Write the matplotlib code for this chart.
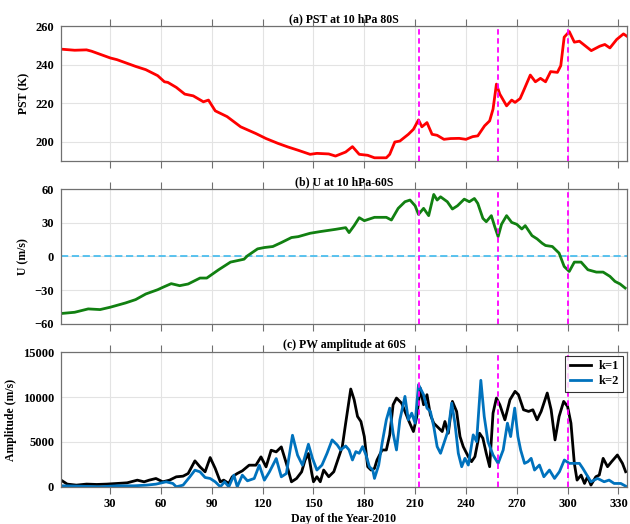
import numpy as np
import matplotlib
matplotlib.use('Agg')
import matplotlib.pyplot as plt

plt.rcParams['font.family'] = ['Liberation Serif', 'DejaVu Serif']
plt.rcParams['font.weight'] = 'bold'

# (a) polar stratospheric temperature, 10 hPa 80S
pst_day = [2, 9, 16, 19, 30, 34, 45, 51, 58, 62, 64, 69, 74, 79, 85, 88, 92, 99, 107,
           116, 122, 129, 135, 141, 148, 152, 159, 163, 169, 173, 177, 182, 186, 193,
           195, 198, 201, 206, 209, 212, 214, 217, 220, 223, 227, 231, 236, 240, 244,
           247, 251, 254, 256, 258, 260, 264, 267, 269, 272, 274, 278, 281, 284, 287,
           290, 294, 296, 298, 301, 304, 307, 314, 319, 322, 325, 329, 333, 335]
pst_val = [248.0, 247.5, 247.7, 247.0, 243.5, 242.6, 239.1, 237.4, 234.3, 231.1, 230.8,
           228.2, 224.7, 223.8, 220.7, 221.6, 216.0, 213.0, 207.7, 204.2, 201.6, 199.1,
           197.2, 195.5, 193.4, 193.9, 193.6, 192.5, 194.6, 197.4, 193.4, 192.9, 191.6,
           191.6, 193.4, 199.8, 200.3, 203.8, 206.4, 211.3, 207.7, 209.9, 203.8, 203.3,
           201.2, 201.6, 201.7, 201.2, 202.6, 203.0, 208.2, 210.8, 216.9, 229.9, 224.7,
           218.6, 221.6, 220.4, 222.4, 226.4, 234.6, 231.1, 232.9, 231.1, 236.4, 236.0,
           239.5, 254.3, 257.2, 251.7, 252.2, 247.3, 249.6, 250.5, 248.7, 253.1, 256.0,
           254.8]

# (b) zonal wind, 10 hPa 60S
u_day = [1, 9, 17, 24, 30, 39, 45, 51, 58, 61, 66, 71, 76, 83, 87, 94, 101, 109, 111,
         117, 121, 126, 131, 137, 141, 148, 154, 163, 169, 171, 174, 177, 180, 186, 193,
         196, 200, 204, 207, 210, 212, 215, 218, 221, 223, 225, 229, 232, 235, 239, 242,
         245, 247, 250, 252, 255, 257, 259, 261, 264, 267, 270, 273, 275, 279, 282, 285,
         287, 291, 295, 298, 301, 304, 308, 312, 317, 321, 325, 328, 331, 334]
u_val = [-50.8, -49.7, -46.7, -47.3, -45.2, -41.4, -38.4, -33.4, -29.6, -27.5, -24.2,
         -26.0, -24.5, -19.2, -19.2, -11.8, -5.0, -2.4, 0.6, 6.8, 8.0, 8.9, 12.4, 16.9,
         17.7, 20.7, 22.2, 24.2, 25.7, 21.3, 27.5, 34.6, 31.9, 34.9, 34.9, 32.5, 42.9,
         48.8, 50.3, 45.2, 37.5, 42.9, 36.4, 55.3, 50.3, 53.2, 48.8, 42.3, 45.2, 51.1,
         48.8, 51.7, 47.3, 34.0, 31.0, 36.4, 26.6, 17.7, 28.7, 36.4, 30.4, 28.7, 24.5,
         27.5, 18.6, 15.7, 11.8, 9.8, 8.9, 3.0, -8.9, -13.3, -5.0, -5.0, -11.8, -13.9,
         -13.9, -17.7, -22.2, -24.5, -28.1]

# (c) planetary wave amplitude at 60S
k1_day = [1.6, 4.6, 10, 16, 22, 28, 34, 40, 46, 50, 53, 57, 61, 65, 69, 73, 76, 80, 83,
          86, 89, 92, 95, 97, 100, 102, 105, 108, 112, 116, 119, 122, 125, 128, 131,
          134, 137, 140, 143, 145, 147, 149, 150, 152, 154, 156, 159, 162, 165, 167,
          169, 172, 174, 176, 178, 180, 182, 184, 186, 187.5, 190.5, 193, 195, 197, 199,
          202, 204, 206, 209, 211, 213, 215, 217, 219, 221, 224, 226, 227.6, 229.6, 232,
          234.5, 236.5, 238.4, 241.4, 243.3, 245.3, 248, 250, 252, 254, 256, 258, 260,
          263, 266, 269, 271, 274, 277, 279.5, 282, 284.4, 288, 290.3, 292.6, 295,
          297.7, 300, 302, 304, 305.6, 308, 310, 311.8, 313.8, 316.7, 318.7, 321, 323.6,
          326, 329.4, 332.4, 334.3]
k1_val = [667, 300, 185, 300, 260, 300, 370, 444, 740, 555, 740, 926, 555, 740, 1111,
          1185, 1481, 2889, 2222, 1667, 3259, 2037, 555, 740, 370, 1111, 1481, 1778,
          2407, 2407, 3333, 2222, 4074, 3889, 4444, 2593, 555, 926, 1667, 2963, 3704,
          1490, 560, 1120, 560, 1865, 1120, 1680, 3357, 4476, 7087, 10890, 9700, 7833,
          7273, 5595, 2238, 1865, 2050, 2984, 4100, 4100, 5780, 9139, 9885, 9325, 8393,
          7460, 6155, 7833, 11000, 9139, 10258, 8020, 7087, 6528, 6155, 7273, 5968, 9512,
          8393, 5595, 4476, 3357, 2798, 3357, 5968, 5409, 3730, 2238, 8206, 9885, 9139,
          7460, 9698, 10630, 10258, 8579, 8393, 8579, 7460, 8393, 10444, 8579, 5222,
          7833, 9512, 8952, 7087, 2611, 746, 1305, 373, 1119, 187, 1119, 1305, 3170,
          2238, 2798, 3543, 2611, 1679]

k2_day = [1.6, 10, 24, 34, 44, 51.5, 57, 63, 67, 69, 73, 77, 80, 83, 86, 89, 92, 95,
          97.5, 100, 103, 105, 108, 111, 115, 118, 121, 124, 128, 131, 134, 137.6,
          140.6, 143.5, 147, 149.4, 152, 155, 158, 161, 164, 166, 169, 171, 173, 175,
          177, 179, 181, 183, 185, 186, 188.5, 190.5, 193, 195, 197, 199, 201, 204, 206,
          208, 210, 212, 215, 217, 219, 221, 223, 225, 227, 229.6, 231.6, 233.5, 235.5,
          237.5, 239.4, 241.4, 244.3, 246.3, 248.8, 250.8, 253, 256, 259, 262, 264.5,
          266.4, 268.8, 270.7, 272.3, 274.6, 276.6, 278.5, 280.5, 283.4, 286, 289.3,
          292.3, 295.2, 298.1, 301, 304, 307, 309, 310.8, 313.8, 317.7, 321.6, 324.5,
          327.5, 331.4, 334.3]
k2_val = [111, 74, 0, 111, 111, 185, 296, 555, 370, 0, 185, 1111, 1852, 1667, 1037, 926,
          555, 0, 555, 0, 1296, 0, 1296, 667, 926, 2407, 741, 1667, 3148, 1111, 1481,
          5741, 3519, 2407, 4741, 3170, 1865, 2424, 3730, 5222, 4663, 4103, 4550, 4103,
          2984, 3917, 3730, 4476, 3543, 2238, 1865, 932, 2424, 4849, 7460, 8766, 5968,
          4103, 7460, 10071, 7460, 8206, 7087, 11377, 10258, 8766, 8393, 6714, 4476,
          3730, 4849, 6341, 9325, 7087, 3730, 2238, 3170, 2424, 5782, 5035, 11860, 7833,
          5035, 3543, 2611, 4103, 7087, 5595, 8766, 5595, 4103, 2611, 2798, 3170, 1865,
          2424, 1119, 1865, 933, 1679, 2984, 2611, 2611, 2611, 2052, 1492, 560, 933, 560,
          746, 373, 373, 75]

events = [212, 259, 300]
xticks = list(range(30, 331, 30))

fig = plt.figure(figsize=(6.3, 5.24), dpi=100)
ax1 = fig.add_axes([0.097, 0.693, 0.898, 0.257])
ax2 = fig.add_axes([0.097, 0.382, 0.898, 0.257])
ax3 = fig.add_axes([0.097, 0.071, 0.898, 0.257])


def style(ax, title, ylabel, ylim, yticks, show_x=False):
    ax.set_xlim(1, 335)
    ax.set_ylim(*ylim)
    ax.set_xticks(xticks)
    ax.set_yticks(yticks)
    ax.grid(True, color='#e3e3e3', linewidth=0.8)
    ax.set_axisbelow(True)
    for s in ax.spines.values():
        s.set_color('#707070')
        s.set_linewidth(0.9)
    ax.tick_params(axis='x', direction='out', length=5, top=True, bottom=True,
                   color='#707070', labelsize=9, pad=3)
    ax.tick_params(axis='y', length=0, labelsize=9, pad=5)
    if not show_x:
        ax.tick_params(axis='x', labelbottom=False)
    for lab in ax.get_xticklabels() + ax.get_yticklabels():
        lab.set_fontweight('bold')
    ax.set_title(title, fontsize=8.5, fontweight='bold', pad=3, loc='center')
    ax.set_ylabel(ylabel, fontsize=8.5, fontweight='bold', labelpad=4)
    for d in events:
        ax.axvline(d, color='#ff00ff', linestyle=(0, (3, 2)), linewidth=1.3, zorder=3)


ax1.plot(pst_day, pst_val, color='#ff0000', linewidth=2, zorder=2)
style(ax1, '(a) PST at 10 hPa 80S', 'PST (K)', (190, 260), [200, 220, 240, 260])

ax2.axhline(0, color='#4dbeee', linestyle=(0, (4, 2)), linewidth=1.3, zorder=2)
ax2.plot(u_day, u_val, color='#118011', linewidth=2, zorder=2)
style(ax2, '(b) U at 10 hPa-60S', 'U (m/s)', (-60, 60), [-60, -30, 0, 30, 60])

ax3.plot(k1_day, k1_val, color='black', linewidth=2, label='k=1', zorder=2)
ax3.plot(k2_day, k2_val, color='#0072bd', linewidth=2, label='k=2', zorder=2)
style(ax3, '(c) PW amplitude at 60S', 'Amplitude (m/s)', (0, 15000),
      [0, 5000, 10000, 15000], show_x=True)
ax3.set_xlabel('Day of the Year-2010', fontsize=8.5, fontweight='bold', labelpad=2)
leg = ax3.legend(loc='upper right', frameon=True, fancybox=False,
                 borderpad=0.35, handlelength=1.7, handletextpad=0.6,
                 labelspacing=0.25, borderaxespad=0.3,
                 prop={'weight': 'bold', 'size': 9})
leg.get_frame().set_edgecolor('black')
leg.get_frame().set_linewidth(0.8)

fig.savefig('out.png', dpi=100)
